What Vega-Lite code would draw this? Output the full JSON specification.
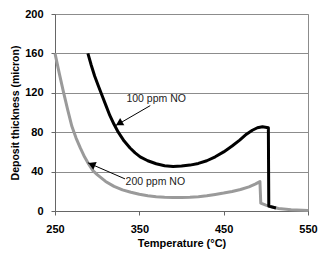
{
  "$schema": "https://vega.github.io/schema/vega-lite/v6.json",
  "width": 253,
  "height": 197,
  "autosize": "none",
  "padding": {"left": 55, "top": 14, "right": 15, "bottom": 45},
  "config": {
    "font": "Liberation Sans",
    "view": {"stroke": "#8c8c8c", "strokeWidth": 1},
    "axis": {
      "labelFont": "Liberation Sans", "labelFontWeight": "bold", "labelFontSize": 11, "labelColor": "#000",
      "titleFont": "Liberation Sans", "titleFontWeight": "bold", "titleFontSize": 11, "titleColor": "#000",
      "domainColor": "#666", "tickColor": "#666", "tickSize": 4, "labelOverlap": false
    }
  },
  "datasets": {
    "curves": [
      {"series": "100 ppm NO", "T": 289, "D": 160},
      {"series": "100 ppm NO", "T": 293, "D": 148},
      {"series": "100 ppm NO", "T": 297, "D": 137},
      {"series": "100 ppm NO", "T": 301, "D": 128},
      {"series": "100 ppm NO", "T": 305, "D": 119},
      {"series": "100 ppm NO", "T": 310, "D": 108},
      {"series": "100 ppm NO", "T": 315, "D": 97},
      {"series": "100 ppm NO", "T": 320, "D": 88},
      {"series": "100 ppm NO", "T": 325, "D": 80},
      {"series": "100 ppm NO", "T": 332, "D": 71},
      {"series": "100 ppm NO", "T": 339, "D": 64},
      {"series": "100 ppm NO", "T": 345, "D": 59},
      {"series": "100 ppm NO", "T": 351, "D": 55},
      {"series": "100 ppm NO", "T": 360, "D": 51},
      {"series": "100 ppm NO", "T": 370, "D": 48},
      {"series": "100 ppm NO", "T": 380, "D": 46},
      {"series": "100 ppm NO", "T": 390, "D": 45.3},
      {"series": "100 ppm NO", "T": 400, "D": 45.6},
      {"series": "100 ppm NO", "T": 410, "D": 46.6},
      {"series": "100 ppm NO", "T": 420, "D": 48.3},
      {"series": "100 ppm NO", "T": 430, "D": 51},
      {"series": "100 ppm NO", "T": 440, "D": 55},
      {"series": "100 ppm NO", "T": 450, "D": 60},
      {"series": "100 ppm NO", "T": 460, "D": 66},
      {"series": "100 ppm NO", "T": 469, "D": 72},
      {"series": "100 ppm NO", "T": 477, "D": 78},
      {"series": "100 ppm NO", "T": 484, "D": 82},
      {"series": "100 ppm NO", "T": 490, "D": 84.5},
      {"series": "100 ppm NO", "T": 496, "D": 85.5},
      {"series": "100 ppm NO", "T": 503, "D": 84.5},
      {"series": "100 ppm NO", "T": 503.5, "D": 5},
      {"series": "100 ppm NO", "T": 512, "D": 3},
      {"series": "200 ppm NO", "T": 250, "D": 160},
      {"series": "200 ppm NO", "T": 255, "D": 140},
      {"series": "200 ppm NO", "T": 260, "D": 121},
      {"series": "200 ppm NO", "T": 265, "D": 103},
      {"series": "200 ppm NO", "T": 270, "D": 86},
      {"series": "200 ppm NO", "T": 275, "D": 74},
      {"series": "200 ppm NO", "T": 280, "D": 64},
      {"series": "200 ppm NO", "T": 285, "D": 55},
      {"series": "200 ppm NO", "T": 290, "D": 47.5},
      {"series": "200 ppm NO", "T": 295, "D": 41},
      {"series": "200 ppm NO", "T": 300, "D": 37},
      {"series": "200 ppm NO", "T": 310, "D": 30},
      {"series": "200 ppm NO", "T": 320, "D": 25},
      {"series": "200 ppm NO", "T": 330, "D": 21.5},
      {"series": "200 ppm NO", "T": 340, "D": 19},
      {"series": "200 ppm NO", "T": 350, "D": 17},
      {"series": "200 ppm NO", "T": 360, "D": 15.5},
      {"series": "200 ppm NO", "T": 370, "D": 14.5},
      {"series": "200 ppm NO", "T": 380, "D": 14},
      {"series": "200 ppm NO", "T": 390, "D": 13.8},
      {"series": "200 ppm NO", "T": 400, "D": 13.8},
      {"series": "200 ppm NO", "T": 410, "D": 14},
      {"series": "200 ppm NO", "T": 420, "D": 14.5},
      {"series": "200 ppm NO", "T": 430, "D": 15.5},
      {"series": "200 ppm NO", "T": 440, "D": 16.8},
      {"series": "200 ppm NO", "T": 450, "D": 18.2},
      {"series": "200 ppm NO", "T": 460, "D": 19.8},
      {"series": "200 ppm NO", "T": 470, "D": 21.8},
      {"series": "200 ppm NO", "T": 480, "D": 24.5},
      {"series": "200 ppm NO", "T": 488, "D": 27.5},
      {"series": "200 ppm NO", "T": 493, "D": 30},
      {"series": "200 ppm NO", "T": 494, "D": 8},
      {"series": "200 ppm NO", "T": 500, "D": 6},
      {"series": "200 ppm NO", "T": 505, "D": 4.5},
      {"series": "200 ppm NO", "T": 515, "D": 2.5},
      {"series": "200 ppm NO", "T": 530, "D": 1.2},
      {"series": "200 ppm NO", "T": 550, "D": 0.5}
    ],
    "notes": [
      {"label": "100 ppm NO", "tx": 370, "ty": 114, "x1": 363, "y1": 107, "x2": 322, "y2": 86.7, "hx": 326, "hy": 89, "angle": 240},
      {"label": "200 ppm NO", "tx": 369, "ty": 29.4, "x1": 333, "y1": 32.6, "x2": 289, "y2": 49, "hx": 293.5, "hy": 47.3, "angle": 294}
    ]
  },
  "layer": [
    {
      "data": {"name": "curves"},
      "transform": [{"filter": "datum.series === '200 ppm NO'"}],
      "mark": {"type": "line", "color": "#9a9a9a", "strokeWidth": 3, "strokeJoin": "round"},
      "encoding": {
        "x": {"field": "T", "type": "quantitative", "title": "Temperature (°C)",
          "scale": {"domain": [250, 550], "nice": false},
          "axis": {"values": [250, 350, 450, 550], "tickCount": 10, "grid": false, "labelPadding": 8, "titlePadding": 3, "labelFlush": false}},
        "y": {"field": "D", "type": "quantitative", "title": "Deposit thickness (micron)",
          "scale": {"domain": [0, 200], "nice": false},
          "axis": {"values": [0, 40, 80, 120, 160, 200], "tickCount": 10, "grid": true, "gridColor": "#8c8c8c", "gridOpacity": 1, "labelPadding": 8, "titlePadding": 4, "titleFontSize": 10.5, "labelFlush": false}}
      }
    },
    {
      "data": {"name": "curves"},
      "transform": [{"filter": "datum.series === '100 ppm NO'"}],
      "mark": {"type": "line", "color": "#000", "strokeWidth": 3, "strokeJoin": "round"},
      "encoding": {
        "x": {"field": "T", "type": "quantitative"},
        "y": {"field": "D", "type": "quantitative"}
      }
    },
    {
      "data": {"name": "notes"},
      "mark": {"type": "rule", "color": "#000", "strokeWidth": 1},
      "encoding": {
        "x": {"field": "x1", "type": "quantitative"},
        "y": {"field": "y1", "type": "quantitative"},
        "x2": {"field": "x2"},
        "y2": {"field": "y2"}
      }
    },
    {
      "data": {"name": "notes"},
      "mark": {"type": "point", "shape": "triangle-up", "filled": true, "color": "#000", "size": 70, "opacity": 1},
      "encoding": {
        "x": {"field": "hx", "type": "quantitative"},
        "y": {"field": "hy", "type": "quantitative"},
        "angle": {"field": "angle", "type": "quantitative", "scale": null}
      }
    },
    {
      "data": {"name": "notes"},
      "mark": {"type": "text", "fontSize": 10.5, "color": "#222", "font": "Liberation Sans"},
      "encoding": {
        "x": {"field": "tx", "type": "quantitative"},
        "y": {"field": "ty", "type": "quantitative"},
        "text": {"field": "label"}
      }
    }
  ]
}
